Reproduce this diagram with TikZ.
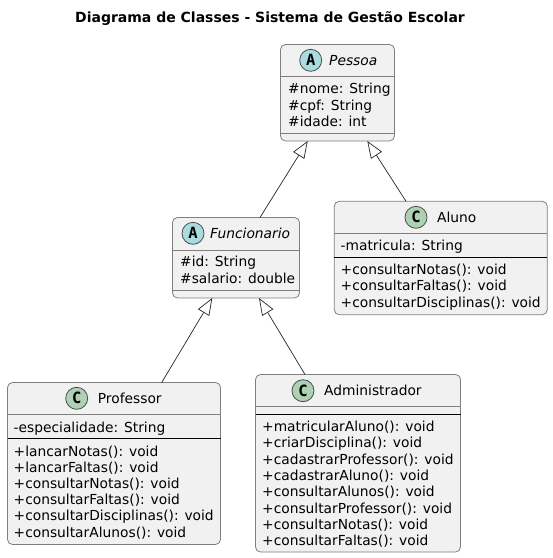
\documentclass[tikz,border=0pt]{standalone}
\usepackage{fontspec}
\setmainfont{DejaVu Sans}
\newfontfamily\badgefont{DejaVu Sans Mono}
\usetikzlibrary{arrows.meta}
\definecolor{boxfill}{HTML}{F1F1F1}
\definecolor{boxline}{HTML}{7F7F7F}
\definecolor{absfill}{HTML}{A9DCDF}
\definecolor{clsfill}{HTML}{ADD1B2}
\tikzset{
 x=1pt,y=-1pt,
 umlbox/.style={draw=boxline,fill=boxfill,line width=0.8pt,rounded corners=5pt},
 sep/.style={draw=boxline,line width=0.8pt},
 sepdark/.style={draw=black,line width=0.8pt},
 mem/.style={anchor=base west,inner sep=0pt,font=\fontsize{13.8}{13.8}\selectfont,text=black},
 titletext/.style={anchor=base west,inner sep=0pt,font=\fontsize{13.8}{13.8}\selectfont,text=black},
 badge/.style={circle,draw=black!70!white,line width=0.8pt,minimum size=22pt,inner sep=0pt,font=\badgefont\bfseries\fontsize{15.5}{15.5}\selectfont},
 ext/.style={draw=black!85!white,line width=0.7pt,-{Triangle[open,fill=white,length=17pt,width=13pt]}}
}
\newcommand{\umlclass}[8]{%
 \path[umlbox] (#2,#3) rectangle (#4,#5);
 \node[inner sep=0pt,minimum width=#4pt-#2pt,minimum height=#5pt-#3pt,anchor=north west] (#1) at (#2,#3) {};
 \draw[sep] (#2,#6) -- (#4,#6);
 \draw[#8] (#2,#7) -- (#4,#7);
}
\begin{document}
\begin{tikzpicture}
\useasboundingbox (0,0) rectangle (553,558);
\path[fill=white] (0,0) rectangle (553,558);
\node[anchor=base,inner sep=0pt,font=\bfseries\fontsize{14}{14}\selectfont] (title) at (270,22.5) {Diagrama de Classes - Sistema de Gestão Escolar};

\umlclass{pessoa}{280.5}{44.5}{394.5}{141}{76.5}{133}{sep}
\node[badge,fill=absfill] (ba) at (310.7,60.3) {A};
\node[titletext] (tp) at (329,65) {\itshape Pessoa};
\node[mem] (m1) at (288,93.3) {\#nome: String};
\node[mem] (m2) at (288,110) {\#cpf: String};
\node[mem] (m3) at (288,126) {\#idade: int};

\umlclass{func}{172.5}{217.5}{299.5}{298}{250}{290}{sep}
\node[badge,fill=absfill] (bf) at (193,233.3) {A};
\node[titletext] (tf) at (210,238) {\itshape Funcionario};
\node[mem] (m4) at (180,266.7) {\#id: String};
\node[mem] (m5) at (180,283.3) {\#salario: double};

\umlclass{aluno}{334.3}{201.3}{547.3}{314.7}{233.3}{257.7}{sepdark}
\node[badge,fill=clsfill] (bal) at (416,217.3) {C};
\node[titletext] (tal) at (437,222) {Aluno};
\node[mem] (m6) at (340.5,250.7) {-matricula: String};
\node[mem] (m7) at (340.5,274.5) {+consultarNotas(): void};
\node[mem] (m8) at (340.5,290.7) {+consultarFaltas(): void};
\node[mem] (m9) at (340.5,307) {+consultarDisciplinas(): void};

\umlclass{prof}{7.5}{382.5}{220.5}{544.5}{414}{438.5}{sepdark}
\node[badge,fill=clsfill] (bpr) at (76.7,398.3) {C};
\node[titletext] (tpr) at (97.7,403) {Professor};
\node[mem] (n1) at (13.5,432) {-especialidade: String};
\node[mem] (n2) at (13.5,456) {+lancarNotas(): void};
\node[mem] (n3) at (13.5,472) {+lancarFaltas(): void};
\node[mem] (n4) at (13.5,488) {+consultarNotas(): void};
\node[mem] (n5) at (13.5,504.5) {+consultarFaltas(): void};
\node[mem] (n6) at (13.5,520.7) {+consultarDisciplinas(): void};
\node[mem] (n7) at (13.5,537) {+consultarAlunos(): void};

\umlclass{adm}{255.5}{374.5}{460.5}{552}{406.5}{414.5}{sepdark}
\node[badge,fill=clsfill] (bad) at (303,390.7) {C};
\node[titletext] (tad) at (324,395.5) {Administrador};
\node[mem] (a1) at (262,431) {+matricularAluno(): void};
\node[mem] (a2) at (262,447.7) {+criarDisciplina(): void};
\node[mem] (a3) at (262,464) {+cadastrarProfessor(): void};
\node[mem] (a4) at (262,480) {+cadastrarAluno(): void};
\node[mem] (a5) at (262,496.7) {+consultarAlunos(): void};
\node[mem] (a6) at (262,513) {+consultarProfessor(): void};
\node[mem] (a7) at (262,529) {+consultarNotas(): void};
\node[mem] (a8) at (262,545.3) {+consultarFaltas(): void};

\coordinate (p1) at (307.7,141);
\coordinate (p2) at (367.3,141);
\coordinate (f0) at (260,217.5);
\coordinate (al0) at (406,201.3);
\coordinate (f1) at (212.3,298);
\coordinate (f2) at (259,298);
\coordinate (pr0) at (161.7,382.5);
\coordinate (ad0) at (305,374.5);
\draw[ext] (f0) -- (p1);
\draw[ext] (al0) -- (p2);
\draw[ext] (pr0) -- (f1);
\draw[ext] (ad0) -- (f2);
\end{tikzpicture}
\end{document}
